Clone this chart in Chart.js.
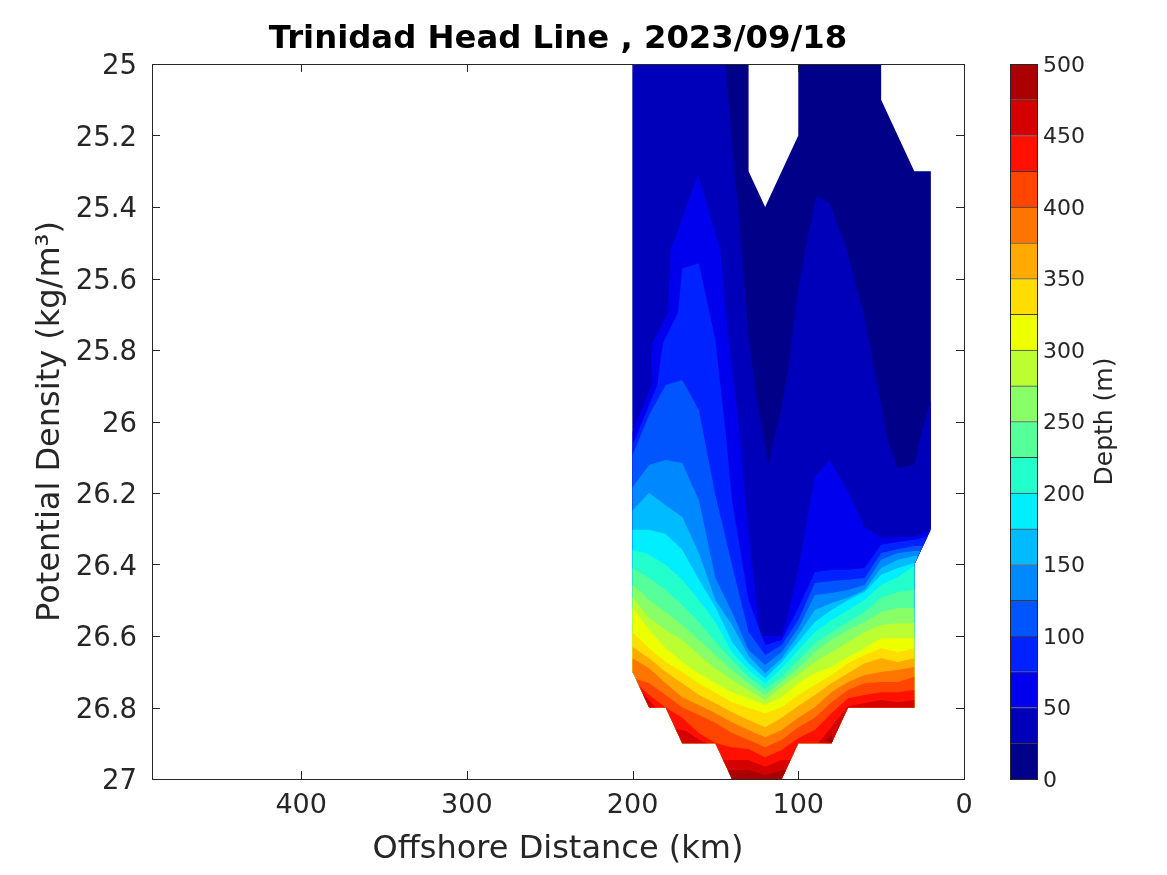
<!DOCTYPE html>
<html>
<head>
<meta charset="utf-8">
<title>Trinidad Head Line</title>
<script src="https://cdn.jsdelivr.net/npm/chart.js@4"></script>
<style>
    body { margin: 0; background: #fff; }
    canvas { position: absolute; left: 0; top: 0; }
</style>
</head>
<body>
<canvas id="section-chart" width="1167" height="875"></canvas>
<canvas id="colorbar-chart" width="1167" height="875"></canvas>
<script>
const distanceTicks = [0, 100, 200, 300, 400];
const densityTicks = [25, 25.2, 25.4, 25.6, 25.8, 26, 26.2, 26.4, 26.6, 26.8, 27];
const depthTicks = [0, 50, 100, 150, 200, 250, 300, 350, 400, 450, 500];
const depthLevels = [0, 25, 50, 75, 100, 125, 150, 175, 200, 225, 250, 275, 300, 325, 350, 375, 400, 425, 450, 475];
const bandColors = [
    '#000088', '#0000BB', '#0000EE', '#0022FF', '#0055FF', '#0088FF', '#00BBFF', '#00EEFF', '#22FFCC', '#55FF99',
    '#88FF66', '#BBFF33', '#EEFF00', '#FFDD00', '#FFAA00', '#FF7500', '#FF4500', '#FF1000', '#D50000', '#AA0000',
];

// stations along the line (km offshore) and the density where each depth contour crosses them
const stationKm = [200, 190, 180, 170, 160, 150, 140, 130, 120, 110, 100, 90, 80, 70, 60, 50, 40, 30];
const contour100 = [26.094, 25.982, 25.898, 25.884, 25.968, 26.206, 26.401, 26.589, 26.653, 26.625, 26.555, 26.452, 26.446, 26.443, 26.438, 26.368, 26.357, 26.348];
const contour125 = [26.183, 26.122, 26.108, 26.116, 26.220, 26.438, 26.533, 26.639, 26.681, 26.645, 26.578, 26.485, 26.480, 26.471, 26.457, 26.387, 26.368, 26.362];
const contour150 = [26.248, 26.200, 26.234, 26.267, 26.368, 26.499, 26.569, 26.655, 26.704, 26.662, 26.597, 26.527, 26.508, 26.493, 26.471, 26.410, 26.387, 26.376];
const contour175 = [26.303, 26.303, 26.315, 26.359, 26.443, 26.519, 26.617, 26.676, 26.718, 26.673, 26.617, 26.561, 26.527, 26.499, 26.477, 26.429, 26.410, 26.396];
const contour200 = [26.359, 26.373, 26.401, 26.443, 26.499, 26.561, 26.645, 26.695, 26.732, 26.690, 26.639, 26.589, 26.555, 26.527, 26.499, 26.457, 26.435, 26.404];
const contour225 = [26.410, 26.438, 26.471, 26.513, 26.561, 26.617, 26.667, 26.715, 26.748, 26.715, 26.667, 26.620, 26.589, 26.561, 26.533, 26.493, 26.477, 26.471];
const contour250 = [26.457, 26.499, 26.533, 26.569, 26.611, 26.653, 26.695, 26.732, 26.765, 26.729, 26.690, 26.645, 26.611, 26.583, 26.561, 26.533, 26.522, 26.522];
const contour275 = [26.491, 26.550, 26.583, 26.611, 26.653, 26.690, 26.723, 26.751, 26.779, 26.743, 26.709, 26.673, 26.645, 26.617, 26.589, 26.569, 26.564, 26.564];
const contour300 = [26.522, 26.583, 26.634, 26.673, 26.704, 26.732, 26.757, 26.774, 26.793, 26.771, 26.732, 26.704, 26.687, 26.659, 26.634, 26.606, 26.606, 26.606];
const contour325 = [26.589, 26.634, 26.673, 26.701, 26.732, 26.759, 26.785, 26.801, 26.816, 26.799, 26.765, 26.737, 26.709, 26.676, 26.653, 26.634, 26.645, 26.634];
const contour350 = [26.631, 26.662, 26.701, 26.732, 26.765, 26.788, 26.813, 26.835, 26.855, 26.829, 26.796, 26.765, 26.732, 26.704, 26.676, 26.662, 26.673, 26.662];
const contour375 = [26.662, 26.690, 26.732, 26.771, 26.793, 26.816, 26.841, 26.863, 26.883, 26.863, 26.829, 26.799, 26.757, 26.729, 26.709, 26.701, 26.695, 26.687];
const contour400 = [26.72, 26.732, 26.765, 26.799, 26.821, 26.843, 26.871, 26.891, 26.911, 26.891, 26.855, 26.829, 26.785, 26.751, 26.732, 26.729, 26.729, 26.715];
const contour425 = [26.74, 26.765, 26.80, 26.829, 26.871, 26.899, 26.911, 26.916, 26.939, 26.919, 26.885, 26.863, 26.816, 26.774, 26.765, 26.757, 26.757, 26.751];

// outline of the sampled section, from the inshore station along the bottom to the offshore end
const bottomEdge = [[30, 26.8], [70, 26.8], [80, 26.9], [100, 26.9], [110, 27], [140, 27], [150, 26.9], [170, 26.9], [180, 26.8], [190, 26.8]];
const offshoreCorner = [[200, 26.7]];
const topOutline = [[200, 25], [130, 25], [130, 25.3], [120, 25.4], [100, 25.2], [100, 25], [50, 25], [50, 25.1], [30, 25.3], [20, 25.3], [20, 26.3], [30, 26.4]];

// contours with fingers that do not fit the station table
const contour25 = [[200, 25], [144, 25], [140, 25.22], [134, 25.52], [130, 25.76], [125, 25.94], [118, 26.12], [115, 26.05], [110, 25.96], [106, 25.85], [101, 25.66], [96, 25.52], [89, 25.37], [81, 25.39], [70.6, 25.52], [60, 25.71], [46, 26.05], [40, 26.13], [30, 26.12], [25, 26.02], [20, 25.94], [20, 26.3], [30, 26.4]];
const contour50 = [[200, 26.029], [188, 25.892], [189, 25.828], [188, 25.78], [178.6, 25.696], [177, 25.52], [160.5, 25.31], [147, 25.52], [144, 25.688], [135, 26.052], [132, 26.22], [123, 26.6], [110, 26.6], [107, 26.555], [100, 26.415], [90, 26.155], [81, 26.108], [70, 26.197], [60, 26.295], [50, 26.326], [40, 26.323], [30, 26.323], [20, 26.303], [30, 26.4]];
const contour75 = [[200, 26.066], [190, 25.954], [185, 25.898], [183.4, 25.836], [181.6, 25.78], [172.6, 25.696], [170, 25.571], [160, 25.557], [150, 25.772], [144, 26.024], [140, 26.22], [130, 26.5], [120, 26.625], [110, 26.611], [100, 26.522], [90, 26.421], [80, 26.415], [70, 26.415], [60, 26.41], [50, 26.345], [40, 26.337], [30, 26.331], [22, 26.323], [30, 26.4]];

const pieces450 = [
    [[145.3, 26.947], [130, 26.947], [120, 26.966], [110, 26.947], [104.7, 26.947], [110, 27], [140, 27]],
    [[30, 26.779], [40, 26.785], [50, 26.779], [60, 26.788], [70, 26.796], [80, 26.855], [88, 26.899], [80, 26.9], [70, 26.8], [30, 26.8]],
    [[174, 26.86], [168, 26.865], [160, 26.89], [155, 26.9], [170, 26.9]],
    [[194, 26.76], [190, 26.78], [186, 26.8], [190, 26.8]],
];
const pieces475 = [
    [[142.5, 26.975], [130, 26.975], [120, 26.989], [110, 26.975], [107.5, 26.975], [110, 27], [140, 27]],
    [[84, 26.89], [80, 26.88], [79, 26.89], [80, 26.9]],
];

const stationRows = [contour100, contour125, contour150, contour175, contour200, contour225, contour250, contour275, contour300, contour325, contour350, contour375];
const slopeEnds = { 0: [[24.8, 26.348], [30, 26.4]], 1: [[26.4, 26.362], [30, 26.4]], 2: [[27.9, 26.376], [30, 26.4]] };

function rowToContour(row) {
    return row.map((density, i) => [stationKm[i], density]);
}

function buildBands() {
    const bands = [
        [[...topOutline, ...bottomEdge, ...offshoreCorner]],
        [[...contour25, ...bottomEdge, ...offshoreCorner]],
        [[...contour50, ...bottomEdge, ...offshoreCorner]],
        [[...contour75, ...bottomEdge, ...offshoreCorner]],
    ];
    stationRows.forEach((row, i) => {
        bands.push([[...rowToContour(row), ...(slopeEnds[i] || []), ...bottomEdge, ...offshoreCorner]]);
    });
    // the two deepest full contours start on the offshore slope, so they skip the corner
    const row400 = rowToContour(contour400);
    row400[0][0] = 198;
    const row425 = rowToContour(contour425);
    row425[0][0] = 196;
    bands.push([[...row400, ...bottomEdge]]);
    bands.push([[...row425, ...bottomEdge]]);
    bands.push(pieces450);
    bands.push(pieces475);
    return bands;
}

function buildSectionDatasets() {
    const datasets = [];
    buildBands().forEach((pieces, k) => {
        pieces.forEach((piece) => {
            datasets.push({
                data: [...piece, piece[0]].map(([x, y]) => ({ x, y })),
                showLine: true,
                fill: 'shape',
                tension: 0,
                borderWidth: 0,
                pointRadius: 0,
                backgroundColor: bandColors[k],
                order: 100 - k,
            });
        });
    });
    return datasets;
}

const INK = '#262626';
const FONT = 'DejaVu Sans';

const axesBox = {
    id: 'axesBox',
    afterDraw(chart, args, opts) {
        const { ctx, chartArea: a, scales } = chart;
        ctx.save();
        ctx.strokeStyle = INK;
        ctx.lineWidth = 1;
        ctx.strokeRect(a.left + 0.5, a.top + 0.5, a.right - a.left, a.bottom - a.top);
        if (opts.tickLength) {
            ctx.beginPath();
            scales.x.ticks.forEach((t) => {
                const px = Math.round(scales.x.getPixelForValue(t.value)) + 0.5;
                ctx.moveTo(px, a.bottom);
                ctx.lineTo(px, a.bottom - opts.tickLength);
                ctx.moveTo(px, a.top);
                ctx.lineTo(px, a.top + opts.tickLength);
            });
            scales.y.ticks.forEach((t) => {
                const py = Math.round(scales.y.getPixelForValue(t.value)) + 0.5;
                ctx.moveTo(a.left, py);
                ctx.lineTo(a.left + opts.tickLength, py);
                ctx.moveTo(a.right, py);
                ctx.lineTo(a.right - opts.tickLength, py);
            });
            ctx.stroke();
        }
        ctx.restore();
    },
};

const sideLabel = {
    id: 'sideLabel',
    afterDraw(chart, args, opts) {
        const { ctx, chartArea: a } = chart;
        ctx.save();
        ctx.translate(a.right + opts.offset, (a.top + a.bottom) / 2);
        ctx.rotate(-Math.PI / 2);
        ctx.fillStyle = INK;
        ctx.font = opts.font;
        ctx.textAlign = 'center';
        ctx.textBaseline = 'middle';
        ctx.fillText(opts.text, 0, 0);
        ctx.restore();
    },
};

new Chart(document.getElementById('section-chart'), {
    type: 'scatter',
    data: { datasets: buildSectionDatasets() },
    plugins: [axesBox],
    options: {
        responsive: false,
        animation: false,
        layout: { padding: { right: 203, left: 0, top: 0, bottom: 0 } },
        plugins: {
            legend: { display: false },
            tooltip: { enabled: false },
            axesBox: { tickLength: 8 },
            title: {
                display: true,
                text: 'Trinidad Head Line , 2023/09/18',
                color: '#000',
                fullSize: false,
                font: { family: FONT, size: 32.3, weight: 'bold', lineHeight: 1.2 },
                padding: { top: 20, bottom: 5.24 },
            },
        },
        scales: {
            x: {
                type: 'linear',
                reverse: true,
                min: 0,
                max: 490,
                grid: { display: false, drawTicks: false },
                border: { color: INK },
                afterBuildTicks: (axis) => { axis.ticks = distanceTicks.map((value) => ({ value })); },
                afterFit: (axis) => { axis.height = 96; },
                ticks: { color: INK, font: { family: FONT, size: 27 }, padding: 11, maxRotation: 0, autoSkip: false, callback: (v) => String(v) },
                title: { display: true, text: 'Offshore Distance (km)', color: INK, font: { family: FONT, size: 32, lineHeight: 1.2 }, padding: { top: 0, bottom: 6 } },
            },
            y: {
                type: 'linear',
                reverse: true,
                min: 25,
                max: 27,
                grid: { display: false, drawTicks: false },
                border: { color: INK },
                afterBuildTicks: (axis) => { axis.ticks = densityTicks.map((value) => ({ value })); },
                afterFit: (axis) => { axis.width = 152; },
                ticks: { color: INK, font: { family: FONT, size: 27.5 }, padding: 15, labelOffset: 3, autoSkip: false, callback: (v) => String(+v.toFixed(1)) },
                title: { display: true, text: 'Potential Density (kg/m³)', color: INK, font: { family: FONT, size: 32, lineHeight: 1.2 }, padding: { top: 31, bottom: 0 } },
            },
        },
    },
});

new Chart(document.getElementById('colorbar-chart'), {
    type: 'bar',
    data: {
        labels: ['Depth'],
        datasets: depthLevels.map((level, k) => ({
            data: [25],
            backgroundColor: bandColors[k],
            borderColor: 'rgba(0, 0, 0, 0.75)',
            borderWidth: { top: 1, left: 0, right: 0, bottom: 0 },
            borderSkipped: false,
            barPercentage: 1,
            categoryPercentage: 1,
        })),
    },
    plugins: [axesBox, sideLabel],
    options: {
        responsive: false,
        animation: false,
        layout: { padding: { left: 1010, right: 0, top: 64, bottom: 96 } },
        plugins: {
            legend: { display: false },
            tooltip: { enabled: false },
            axesBox: { tickLength: 0 },
            sideLabel: { text: 'Depth (m)', font: `25px "${FONT}"`, offset: 68 },
        },
        scales: {
            x: { stacked: true, display: false },
            y: {
                stacked: true,
                position: 'right',
                min: 0,
                max: 500,
                grid: { display: false, drawTicks: false },
                border: { display: false },
                afterBuildTicks: (axis) => { axis.ticks = depthTicks.map((value) => ({ value })); },
                afterFit: (axis) => { axis.width = 130; },
                ticks: { color: INK, font: { family: FONT, size: 22 }, padding: 6, labelOffset: 2, autoSkip: false, callback: (v) => String(v) },
            },
        },
    },
});
</script>
</body>
</html>
